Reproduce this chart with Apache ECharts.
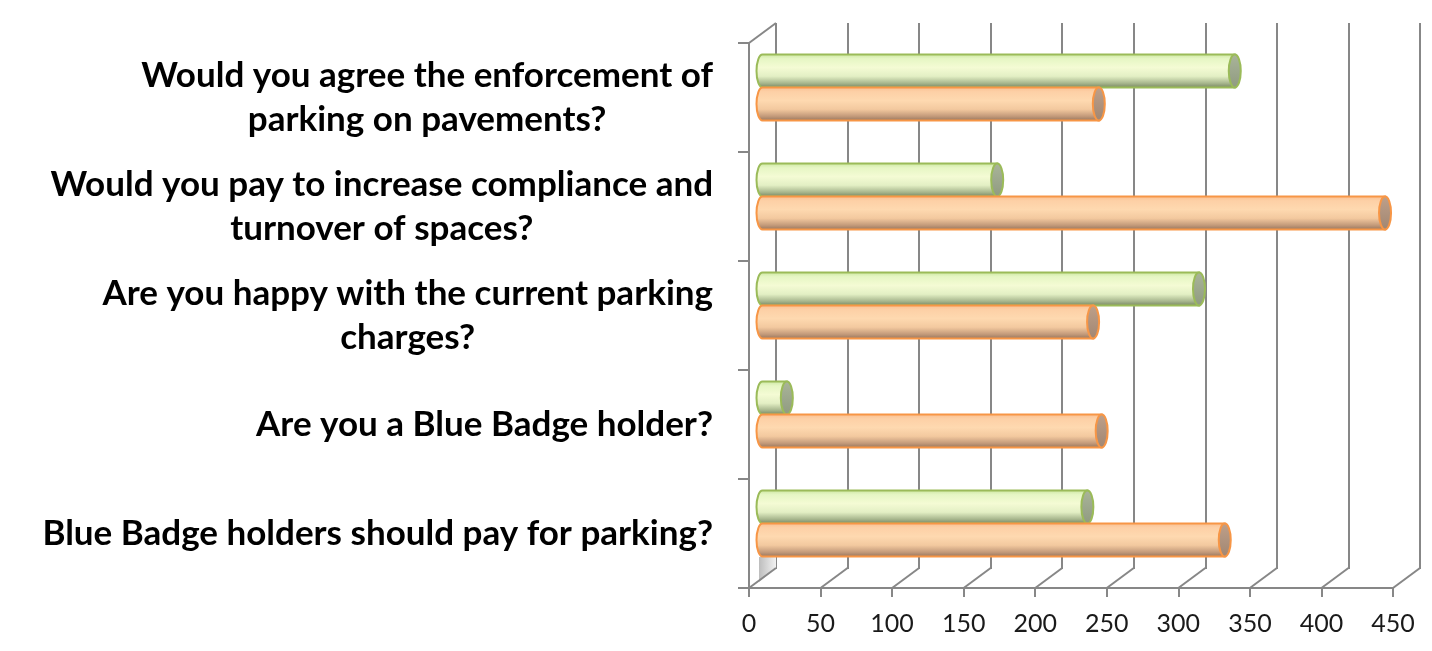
<!DOCTYPE html>
<html>
<head>
<meta charset="utf-8">
<script src="https://cdn.jsdelivr.net/npm/echarts@6/dist/echarts.min.js"></script>
<style>
  html, body { margin: 0; padding: 0; background: #fff; }
  #chart { width: 1432px; height: 651px; }
</style>
</head>
<body>
<div id="chart"></div>
<script>
// data, top category first
var categories = [
  'Would you agree the enforcement of\nparking on pavements?',
  'Would you pay to increase compliance and\nturnover of spaces?',
  'Are you happy with the current parking\ncharges?',
  'Are you a Blue Badge holder?',
  'Blue Badge holders should pay for parking?'
];
var greenValues = [330, 164, 305, 17, 227];
var orangeValues = [235, 435, 231, 237, 323];
var xMin = 0, xMax = 450, xStep = 50;

// fake 3d: front plane, back wall, bars half way in between
var front = { left: 749, top: 43, width: 644, height: 545 };
var depth = { dx: 27, dy: -20 };
var gridColor = '#878787';
var barH = 33;

var chart = echarts.init(document.getElementById('chart'));

function grad(stops) {
  return new echarts.graphic.LinearGradient(0, 0, 0, 1, stops);
}
var greenFill = grad([
  { offset: 0, color: '#c9e59e' },
  { offset: 0.15, color: '#e6f6c4' },
  { offset: 0.4, color: '#f4fbd4' },
  { offset: 0.65, color: '#e3efc4' },
  { offset: 0.85, color: '#a7b68d' },
  { offset: 1, color: '#6f7e5a' }
]);
var orangeFill = grad([
  { offset: 0, color: '#f9bd8e' },
  { offset: 0.15, color: '#fdd0a6' },
  { offset: 0.4, color: '#fed9b0' },
  { offset: 0.65, color: '#f3c99f' },
  { offset: 0.85, color: '#c39a7a' },
  { offset: 1, color: '#8e6f58' }
]);
var greenCap = grad([{ offset: 0, color: '#aab59a' }, { offset: 1, color: '#8f9a80' }]);
var orangeCap = grad([{ offset: 0, color: '#bfa08a' }, { offset: 1, color: '#a08672' }]);

function labelFormatter(v) {
  return v.split('\n').map(function (s) { return '{c|' + s + '}'; }).join('\n');
}

// one cylinder per value, side -1 = upper half of the band, +1 = lower half
function cylinder(name, values, fill, edge, capColor, side) {
  return {
    type: 'custom', name: name, xAxisIndex: 2, yAxisIndex: 2,
    data: values.map(function (v, i) { return [v, i]; }),
    encode: { x: 0, y: 1 },
    renderItem: function (params, api) {
      var p0 = api.coord([0, api.value(1)]);
      var p1 = api.coord([api.value(0), api.value(1)]);
      var y = side < 0 ? p0[1] - barH : p0[1];
      var x0 = p0[0], x1 = p1[0], ry = barH / 2;
      var body = 'M' + x0 + ',' + y + ' L' + x1 + ',' + y + ' L' + x1 + ',' + (y + barH) +
        ' L' + x0 + ',' + (y + barH) + ' A6,' + ry + ' 0 0 1 ' + x0 + ',' + y + ' Z';
      var cap = 'M' + x1 + ',' + y + ' A6,' + ry + ' 0 0 1 ' + x1 + ',' + (y + barH) +
        ' A6,' + ry + ' 0 0 1 ' + x1 + ',' + y + ' Z';
      return {
        type: 'group',
        children: [
          { type: 'path', shape: { pathData: body },
            style: { fill: fill, stroke: edge, lineWidth: 2 } },
          { type: 'path', shape: { pathData: cap },
            style: { fill: capColor, stroke: edge, lineWidth: 2 } }
        ]
      };
    }
  };
}

var xAxisBase = { type: 'value', min: xMin, max: xMax, interval: xStep };

var option = {
  backgroundColor: '#fff',
  animation: false,
  grid: [
    { left: front.left, top: front.top, width: front.width, height: front.height },
    { left: front.left + depth.dx, top: front.top + depth.dy, width: front.width, height: front.height + 1 },
    { left: front.left + depth.dx / 2, top: front.top + depth.dy / 2, width: front.width, height: front.height }
  ],
  xAxis: [
    Object.assign({}, xAxisBase, {
      gridIndex: 0,
      axisLine: { show: true, lineStyle: { color: gridColor, width: 2 } },
      axisTick: { show: true, length: 9, lineStyle: { color: gridColor, width: 2 } },
      axisLabel: { fontFamily: 'Lato', fontSize: 25, color: '#1a1a1a', margin: 23 },
      splitLine: { show: false }
    }),
    Object.assign({}, xAxisBase, {
      gridIndex: 1,
      axisLine: { show: false }, axisTick: { show: false }, axisLabel: { show: false },
      splitLine: { show: true, lineStyle: { color: gridColor, width: 2 } }
    }),
    Object.assign({}, xAxisBase, {
      gridIndex: 2, show: false
    })
  ],
  yAxis: [
    {
      type: 'category', gridIndex: 0, inverse: true, data: categories,
      axisLine: { show: true, lineStyle: { color: gridColor, width: 2 } },
      axisTick: { show: true, length: 11, lineStyle: { color: gridColor, width: 2 } },
      axisLabel: {
        margin: 36,
        formatter: labelFormatter,
        lineHeight: 44,
        rich: {
          c: { fontFamily: 'Lato', fontWeight: 'bold', fontSize: 35, color: '#000', align: 'center', lineHeight: 44 }
        }
      }
    },
    { type: 'category', gridIndex: 1, inverse: true, data: categories, show: false },
    { type: 'category', gridIndex: 2, inverse: true, data: categories, show: false }
  ],
  series: [
    cylinder('Yes', greenValues, greenFill, '#9bbb59', greenCap, -1),
    cylinder('No', orangeValues, orangeFill, '#f79646', orangeCap, 1)
  ]
};
chart.setOption(option);

// floor and corner lines joining the front plane to the back wall
var yBottom = front.top + front.height;
var extra = [];
for (var v = xMin; v <= xMax; v += xStep) {
  var xf = chart.convertToPixel({ xAxisIndex: 0 }, v);
  extra.push({
    type: 'line', silent: true, z: 1,
    shape: { x1: xf, y1: yBottom, x2: xf + depth.dx, y2: yBottom + depth.dy },
    style: { stroke: gridColor, lineWidth: 2 }
  });
}
extra.push({
  type: 'line', silent: true, z: 1,
  shape: { x1: front.left, y1: front.top, x2: front.left + depth.dx, y2: front.top + depth.dy },
  style: { stroke: gridColor, lineWidth: 2 }
});
extra.push({
  type: 'polygon', silent: true, z: 0,
  shape: { points: [[front.left + 10, yBottom - 31], [front.left + depth.dx, yBottom - 31],
    [front.left + depth.dx, yBottom + depth.dy], [front.left + 10, yBottom - 6]] },
  style: { fill: new echarts.graphic.LinearGradient(0, 0, 1, 0, [
    { offset: 0, color: '#bdbdbd' }, { offset: 1, color: '#f2f2f2' }]) }
});
chart.setOption({ graphic: extra });
</script>
</body>
</html>
